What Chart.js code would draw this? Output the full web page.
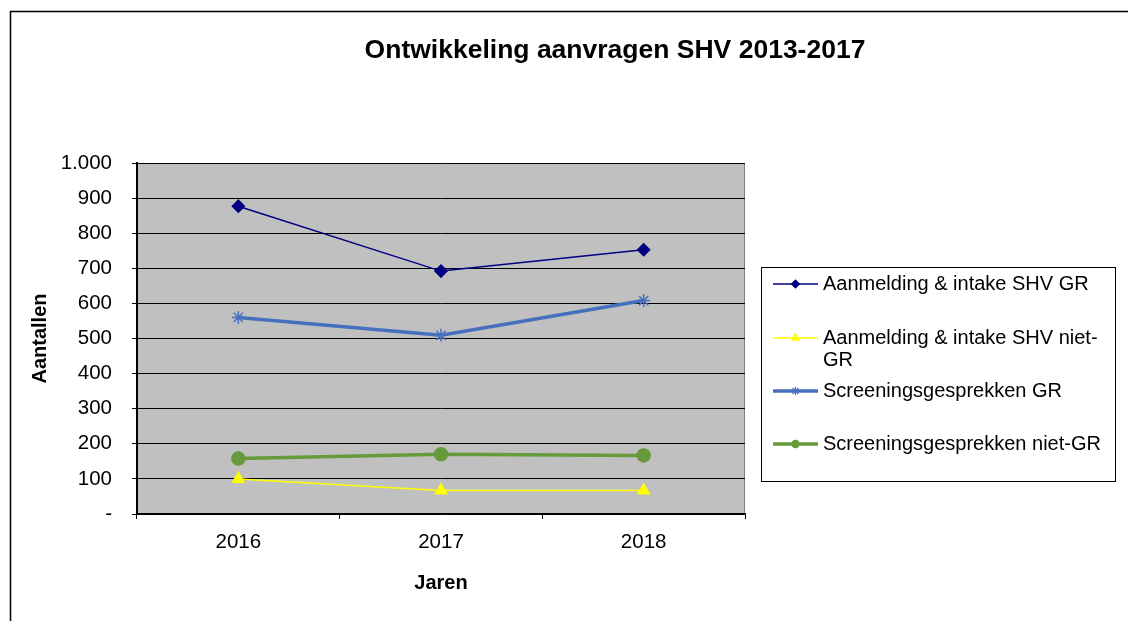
<!DOCTYPE html>
<html>
<head>
<meta charset="utf-8">
<title>Ontwikkeling aanvragen SHV</title>
<script src="https://cdn.jsdelivr.net/npm/chart.js"></script>
<style>
  html, body { margin: 0; padding: 0; background: #fff; }
</style>
</head>
<body>
<canvas id="chart" width="1128" height="621"></canvas>
<script>
// data
const titel = "Ontwikkeling aanvragen SHV 2013-2017";
const jaren = ["2016", "2017", "2018"];
const aanmeldingGR = [877, 692, 753];
const aanmeldingNietGR = [100, 67, 67];
const screeningGR = [560, 509, 608];
const screeningNietGR = [158, 170, 167];
const yTicks = { min: 0, max: 1000, step: 100 };

const FONT = "'Liberation Sans', Arial, sans-serif";

// draws frame, grey plot area, title and the boxed legend
const decor = {
  id: "decor",
  beforeDraw(chart) {
    const { ctx, chartArea: a } = chart;
    ctx.save();
    ctx.fillStyle = "#fff";
    ctx.fillRect(0, 0, chart.width, chart.height);
    ctx.strokeStyle = "#000";
    ctx.lineWidth = 1.5;
    ctx.strokeRect(10.5, 11.5, 1400, 900);
    ctx.fillStyle = "#c0c0c0";
    ctx.fillRect(a.left, a.top, a.right - a.left, a.bottom - a.top);
    ctx.strokeStyle = "#808080";
    ctx.lineWidth = 1;
    ctx.strokeRect(a.left + 0.5, a.top + 0.5, a.right - a.left - 1, a.bottom - a.top - 1);
    ctx.fillStyle = "#000";
    ctx.font = "bold 26.5px " + FONT;
    ctx.textAlign = "center";
    ctx.textBaseline = "middle";
    ctx.fillText(titel, 615, 51);
    ctx.restore();
  },
  afterDraw(chart) {
    const ctx = chart.ctx;
    const box = { x: 761, y: 267, w: 354, h: 214 };
    const rows = [284, 338, 391, 444];
    ctx.save();
    ctx.fillStyle = "#fff";
    ctx.fillRect(box.x, box.y, box.w, box.h);
    ctx.strokeStyle = "#000";
    ctx.lineWidth = 1;
    ctx.strokeRect(box.x + 0.5, box.y + 0.5, box.w, box.h);
    ctx.font = "20px " + FONT;
    ctx.textAlign = "left";
    ctx.textBaseline = "middle";
    chart.data.datasets.forEach((ds, i) => {
      const y = rows[i];
      ctx.strokeStyle = ds.borderColor;
      ctx.lineWidth = ds.borderWidth;
      ctx.beginPath();
      ctx.moveTo(773, y);
      ctx.lineTo(818, y);
      ctx.stroke();
      ctx.fillStyle = ds.pointBackgroundColor;
      ctx.strokeStyle = ds.pointBorderColor;
      ctx.lineWidth = 1.2;
      Chart.helpers.drawPoint(ctx, { pointStyle: ds.pointStyle, radius: ds.pointRadius * 0.65, borderWidth: 1.2, rotation: 0 }, 795.5, y);
      ctx.fillStyle = "#000";
      wrap(ctx, ds.label, 289).forEach((line, j) => ctx.fillText(line, 823, y + j * 22));
    });
    ctx.restore();
  }
};

function wrap(ctx, text, maxW) {
  const parts = text.split(/(?<=[\s-])/);
  const lines = [];
  let cur = "";
  parts.forEach(p => {
    if (cur && ctx.measureText((cur + p).trim()).width > maxW) {
      lines.push(cur.trim());
      cur = p;
    } else {
      cur += p;
    }
  });
  if (cur) lines.push(cur.trim());
  return lines;
}

new Chart(document.getElementById("chart"), {
  type: "line",
  data: {
    labels: jaren,
    datasets: [
      {
        label: "Aanmelding & intake SHV GR",
        data: aanmeldingGR,
        borderColor: "#000080",
        borderWidth: 1.5,
        pointStyle: "rectRot",
        pointRadius: 6,
        pointBackgroundColor: "#000080",
        pointBorderColor: "#000080"
      },
      {
        label: "Aanmelding & intake SHV niet-GR",
        data: aanmeldingNietGR,
        borderColor: "#ffff00",
        borderWidth: 1.5,
        pointStyle: "triangle",
        pointRadius: 6.5,
        pointBackgroundColor: "#ffff00",
        pointBorderColor: "#ffff00"
      },
      {
        label: "Screeningsgesprekken GR",
        data: screeningGR,
        borderColor: "#4670bd",
        borderWidth: 3.5,
        pointStyle: "star",
        pointRadius: 6.5,
        pointBorderWidth: 1.5,
        pointBackgroundColor: "#4670bd",
        pointBorderColor: "#4670bd"
      },
      {
        label: "Screeningsgesprekken niet-GR",
        data: screeningNietGR,
        borderColor: "#669a3a",
        borderWidth: 3.5,
        pointStyle: "circle",
        pointRadius: 5.5,
        pointBackgroundColor: "#669a3a",
        pointBorderColor: "#669a3a"
      }
    ]
  },
  options: {
    responsive: false,
    animation: false,
    events: [],
    layout: { padding: { top: 163, right: 383, left: 0, bottom: 0 } },
    plugins: {
      legend: { display: false },
      title: { display: false },
      tooltip: { enabled: false }
    },
    scales: {
      x: {
        offset: true,
        afterFit: s => { s.height = 107; },
        grid: { offset: true, drawOnChartArea: false, color: "#000", tickColor: "#000", tickLength: 5 },
        border: { color: "#000", width: 1.5 },
        ticks: { color: "#000", padding: 11, font: { family: FONT, size: 20.5 }, maxRotation: 0 },
        title: {
          display: true,
          text: "Jaren",
          color: "#000",
          font: { family: FONT, size: 20, weight: "bold" },
          padding: { top: 0, bottom: 26 }
        }
      },
      y: {
        min: yTicks.min,
        max: yTicks.max,
        afterFit: s => { s.width = 137; },
        grid: { color: "#000", lineWidth: 1, tickColor: "#000", tickLength: 5 },
        border: { color: "#000", width: 2 },
        ticks: {
          stepSize: yTicks.step,
          color: "#000",
          padding: 20,
          font: { family: FONT, size: 20.5 },
          callback: v => v === 0 ? "-" : String(v).replace(/\B(?=(\d{3})+(?!\d))/g, ".")
        },
        title: {
          display: true,
          text: "Aantallen",
          color: "#000",
          font: { family: FONT, size: 20, weight: "bold" },
          padding: { top: 28, bottom: 0 }
        }
      }
    }
  },
  plugins: [decor]
});
</script>
</body>
</html>
